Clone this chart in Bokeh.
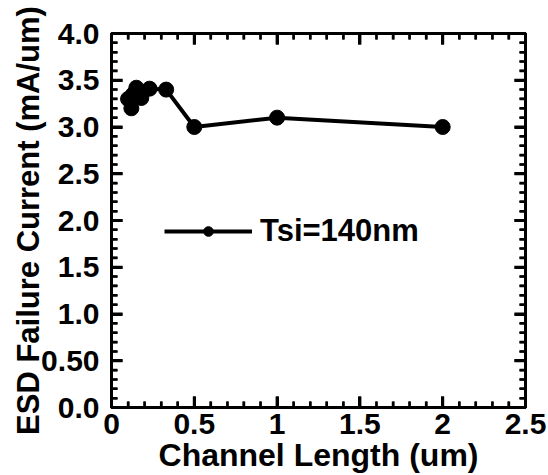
from bokeh.plotting import figure
from bokeh.models import LinearAxis, Range1d, Legend, LegendItem
from bokeh.embed import file_html
from bokeh.resources import INLINE

channel_length = [0.10, 0.12, 0.13, 0.15, 0.18, 0.23, 0.33, 0.5, 1.0, 2.0]
failure_current = [3.30, 3.20, 3.35, 3.42, 3.31, 3.41, 3.40, 3.00, 3.10, 3.00]
series_name = "Tsi=140nm"
x_major = [0, 0.5, 1.0, 1.5, 2.0, 2.5]
x_minor = [0.1, 0.2, 0.3, 0.4, 0.6, 0.7, 0.8, 0.9, 1.1, 1.2, 1.3, 1.4,
           1.6, 1.7, 1.8, 1.9, 2.1, 2.2, 2.3, 2.4]
y_ticks = [0, 0.5, 1.0, 1.5, 2.0, 2.5, 3.0, 3.5, 4.0]
y_tick_labels = ["0.0", "0.50", "1.0", "1.5", "2.0", "2.5", "3.0", "3.5", "4.0"]
y_minor = [0.1, 0.2, 0.3, 0.4, 0.6, 0.7, 0.8, 0.9, 1.1, 1.2, 1.3, 1.4,
           1.6, 1.7, 1.8, 1.9, 2.1, 2.2, 2.3, 2.4, 2.6, 2.7, 2.8, 2.9,
           3.1, 3.2, 3.3, 3.4, 3.6, 3.7, 3.8, 3.9]
X0, X1, Y0, Y1 = 0, 2.5, 0, 4.0

FONT = "Liberation Sans"
W, H = 548, 475
BL, BR, BT, BB = 111, 23, 33, 66

p = figure(width=W, height=H, output_backend="svg", toolbar_location=None,
           x_range=Range1d(X0, X1), y_range=Range1d(Y0, Y1),
           min_border_left=BL, min_border_right=BR, min_border_top=BT, min_border_bottom=BB,
           x_axis_label="Channel Length (um)", y_axis_label="ESD Failure Current (mA/um)")
p.grid.visible = False
p.outline_line_color = "black"
p.outline_line_width = 3

def style_axis(ax, show_labels=True):
    ax.axis_line_width = 3
    ax.axis_line_color = "black"
    ax.major_tick_in = 11
    ax.major_tick_out = 0
    ax.minor_tick_in = 6
    ax.minor_tick_out = 0
    ax.major_tick_line_width = 3
    ax.minor_tick_line_width = 2
    ax.major_tick_line_color = "black"
    ax.minor_tick_line_color = "black"
    if show_labels:
        ax.major_label_text_font = FONT
        ax.major_label_text_font_style = "bold"
        ax.major_label_text_font_size = "30px"
        ax.major_label_text_color = "black"
        ax.axis_label_text_font = FONT
        ax.axis_label_text_font_style = "bold"
        ax.axis_label_text_font_size = "32px"
        ax.axis_label_text_color = "black"
    else:
        ax.major_label_text_font_size = "9px"
        ax.major_label_text_alpha = 0
        ax.major_label_standoff = 0

style_axis(p.xaxis[0])
style_axis(p.yaxis[0])
p.yaxis[0].major_label_overrides = {t: l for t, l in zip(y_ticks, y_tick_labels)}
p.yaxis[0].axis_label_text_font_size = "31px"
p.xaxis[0].major_label_standoff = 6
p.xaxis[0].axis_label_standoff = 0
p.yaxis[0].major_label_standoff = 12
p.yaxis[0].axis_label_standoff = -8

top = LinearAxis()
right = LinearAxis()
style_axis(top, show_labels=False)
style_axis(right, show_labels=False)
p.add_layout(top, "above")
p.add_layout(right, "right")

# inward tick marks drawn along the frame edges (lengths converted from pixels)
px_x = (X1 - X0) / (W - BL - BR)
px_y = (Y1 - Y0) / (H - BT - BB)

def ticks_x(vals, length_px, width):
    ly = length_px * px_y
    n = len(vals)
    p.segment(vals, [Y0] * n, vals, [Y0 + ly] * n, line_width=width, color="black")
    p.segment(vals, [Y1] * n, vals, [Y1 - ly] * n, line_width=width, color="black")

def ticks_y(vals, length_px, width):
    lx = length_px * px_x
    n = len(vals)
    p.segment([X0] * n, vals, [X0 + lx] * n, vals, line_width=width, color="black")
    p.segment([X1] * n, vals, [X1 - lx] * n, vals, line_width=width, color="black")

ticks_x(x_major, 11, 3)
ticks_x(x_minor, 6, 2.5)
ticks_y(y_ticks, 11, 3)
ticks_y(y_minor, 6, 2.5)

ln = p.line(channel_length, failure_current, line_width=4, color="black")
pts = p.scatter(channel_length, failure_current, size=15, color="black")

legend = Legend(items=[LegendItem(label=series_name, renderers=[ln, pts])],
                location=(53, 158), glyph_width=88, glyph_height=24,
                label_text_font=FONT, label_text_font_style="bold",
                label_text_font_size="31px", label_text_color="black", label_standoff=8,
                border_line_alpha=0, background_fill_alpha=0, padding=0, margin=0)
p.add_layout(legend, "center")

open("out.html", "w").write(file_html(p, INLINE))
